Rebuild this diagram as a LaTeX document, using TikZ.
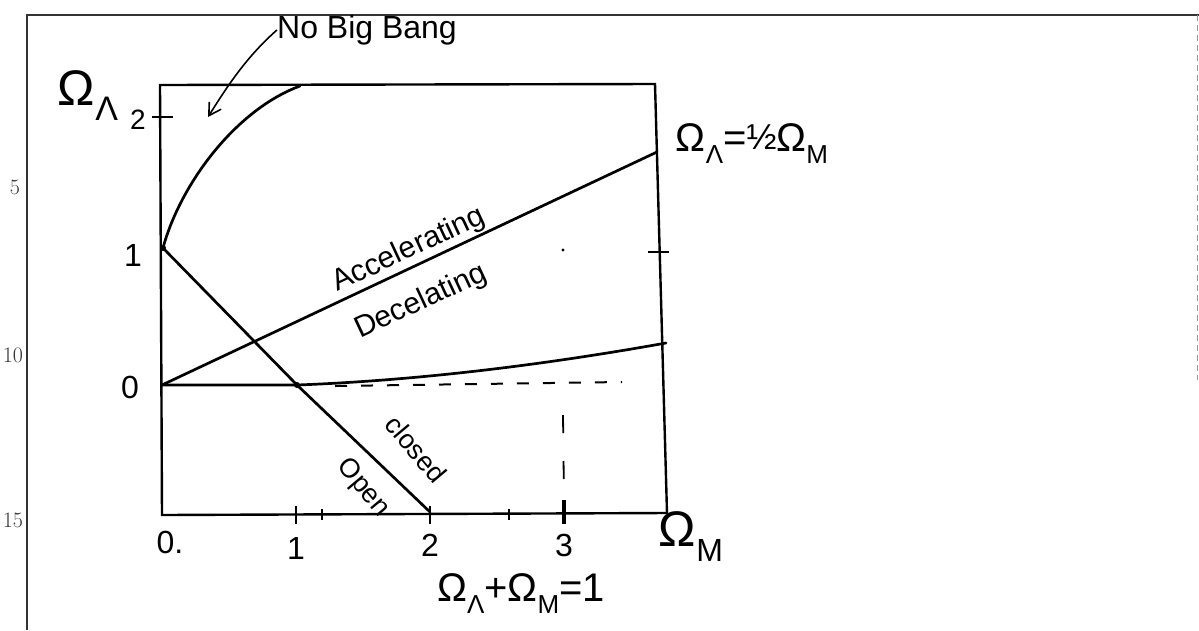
\documentclass[tikz,border=0pt]{standalone}
\usepackage{fontspec}
\newfontfamily\hand{Liberation Sans}
\usetikzlibrary{arrows.meta}
\newcommand\omsub[2]{Ω\raisebox{-0.3em}{\fontsize{#2}{#2}\selectfont #1}}
\tikzset{
  curve/.style={line width=2.7pt, line cap=round, line join=round},
  boxline/.style={line width=2.4pt, line cap=round},
  frameline/.style={line width=1.4pt, black!80},
  tickmark/.style={line width=2pt},
  dashline/.style={line width=2pt, dash pattern=on 12pt off 14pt},
  hw/.style={font=\hand\fontsize{28}{28}\selectfont, inner sep=0pt},
  num/.style={font=\hand\fontsize{32}{32}\selectfont, inner sep=0pt},
  margin/.style={font=\fontsize{22}{22}\selectfont, inner sep=0pt, black!80}
}
\begin{document}
\begin{tikzpicture}[x=1pt,y=-1pt]
\useasboundingbox (0,0) rectangle (1199,630);
% page frame
\coordinate (F1) at (27,630);
\coordinate (F2) at (27,15);
\coordinate (F3) at (1199,15);
\coordinate (F4) at (1197,15);
\coordinate (F5) at (1197,380);
\draw[frameline] (F1) -- (F2) -- (F3);
\draw[line width=0.8pt, black!40, dash pattern=on 6pt off 4pt] (F4) -- (F5);
\node[margin] (m5) at (15,187) {5};
\node[margin] (m10) at (13,355) {10};
\node[margin] (m15) at (13,520) {15};
% plot box
\coordinate (TL) at (160,85);
\coordinate (BL) at (162,515);
\coordinate (BR) at (667,513);
\coordinate (TR) at (655,84);
\draw[boxline] (TL) -- (BL) -- (BR) -- (TR) -- cycle;
% key points
\coordinate (O) at (162,385);
\coordinate (L1) at (163,248);
\coordinate (NB) at (300,86);
\coordinate (HalfEnd) at (657,152);
\coordinate (CrossOne) at (297,385);
\coordinate (ClosedEnd) at (430,512);
\coordinate (LowEnd) at (666,343);
% curves
\draw[curve] (L1) .. controls (180,185) and (235,110) .. (NB);
\draw[curve] (O) -- (HalfEnd);
\draw[curve] (L1) -- (CrossOne) -- (ClosedEnd);
\draw[curve] (O) -- (CrossOne) .. controls (430,380) and (560,362) .. (LowEnd);
\fill (L1) circle (3pt);
\fill (CrossOne) circle (3pt);
% dashed guides
\coordinate (DH1) at (335,386);
\coordinate (DH2) at (622,382);
\draw[dashline] (DH1) -- (DH2);
\coordinate (DV1) at (563,415);
\coordinate (DV2) at (564,500);
\draw[line width=1.8pt, dash pattern=on 18pt off 28pt] (DV1) -- (DV2);
% ticks
\coordinate (tk2a) at (152,117); \coordinate (tk2b) at (173,117);
\draw[tickmark] (tk2a) -- (tk2b);
\coordinate (tkRa) at (648,252); \coordinate (tkRb) at (669,252);
\draw[tickmark] (tkRa) -- (tkRb);
\foreach \x/\a/\b in {296/506/524, 322/509/520, 430/506/524, 509/509/520}{
  \draw[tickmark] (\x,\a) -- (\x,\b);
}
\coordinate (tk3a) at (564,500); \coordinate (tk3b) at (564,524);
\draw[line width=4pt] (tk3a) -- (tk3b);
\fill (563,250) circle (1.6pt);
% axis labels
\node[hw, font=\hand\fontsize{50}{50}\selectfont] (omL) at (88,96) {\omsub{Λ}{34}};
\node[num, font=\hand\fontsize{28}{28}\selectfont] (y2) at (138,120) {2};
\node[num] (y1) at (133,255) {1};
\node[num] (y0) at (130,387) {0};
\node[num] (x0) at (170,542) {0.};
\node[num] (x1) at (296,548) {1};
\node[num] (x2) at (430,545) {2};
\node[num] (x3) at (564,545) {3};
\node[hw, font=\hand\fontsize{50}{50}\selectfont] (omM) at (691,537) {\omsub{M}{32}};
\node[hw, font=\hand\fontsize{40}{40}\selectfont] (flat) at (521,594) {\omsub{Λ}{26}+\omsub{M}{26}=1};
\node[hw, font=\hand\fontsize{40}{40}\selectfont] (half) at (752,144) {\omsub{Λ}{26}=\raisebox{0.05em}{\fontsize{36}{36}\selectfont ½}\omsub{M}{26}};
% region labels
\node[hw, font=\hand\fontsize{32}{32}\selectfont] (nbb) at (367,30) {No Big Bang};
\coordinate (arrEnd) at (208,117);
\draw[line width=1.6pt, -{Straight Barb[length=12pt, width=14pt]}] (nbb.west) .. controls (245,58) and (225,90) .. (arrEnd);
\node[hw, rotate=25, font=\hand\fontsize{30}{30}\selectfont] (acc) at (409,250) {Accelerating};
\node[hw, rotate=25, font=\hand\fontsize{30}{30}\selectfont] (dec) at (421,302) {Decelating};
\node[hw, rotate=-50, font=\hand\fontsize{27}{27}\selectfont] (closed) at (416,449) {closed};
\node[hw, rotate=-50, font=\hand\fontsize{27}{27}\selectfont] (open) at (363,488) {Open};
\end{tikzpicture}
\end{document}
